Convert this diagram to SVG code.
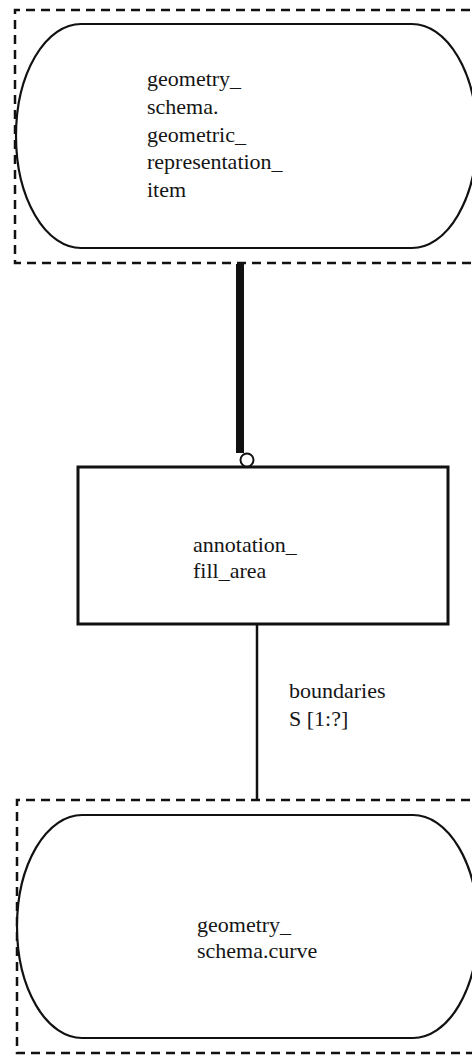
<svg xmlns="http://www.w3.org/2000/svg" width="472" height="1055" viewBox="0 0 472 1055">
<style>
text{font-family:"Liberation Serif","Times New Roman",serif;font-size:22px;fill:#151515}
.dash{fill:none;stroke:#111;stroke-width:2.5;stroke-dasharray:9,6}
.oval{fill:#fff;stroke:#111;stroke-width:2.2}
.box{fill:#fff;stroke:#111;stroke-width:3}
.line{fill:none;stroke:#111}
</style>
<rect width="472" height="1055" fill="#fff"/>
<g id="node-geometric_representation_item">
<path class="dash" d="M485,10 H15 V263 H485"/>
<rect class="oval" x="16" y="24" width="461" height="224" rx="65" ry="112"/>
<text x="147" y="86">geometry_</text>
<text x="147" y="114">schema.</text>
<text x="147" y="142">geometric_</text>
<text x="147" y="169">representation_</text>
<text x="147" y="197">item</text>
</g>
<g id="node-annotation_fill_area">
<rect class="box" x="78" y="467" width="370" height="157"/>
<text x="193" y="552">annotation_</text>
<text x="193" y="578">fill_area</text>
</g>
<g id="node-curve">
<path class="dash" d="M485,800 H17 V1053 H485"/>
<rect class="oval" x="17" y="815" width="461" height="223" rx="65" ry="111.5"/>
<text x="197" y="932">geometry_</text>
<text x="197" y="958">schema.curve</text>
</g>
<g id="connectors">
<line class="line" x1="240" y1="264" x2="240" y2="453" stroke-width="8"/>
<circle cx="247" cy="460" r="6.5" fill="#fff" stroke="#111" stroke-width="2"/>
<line class="line" x1="257" y1="625" x2="257" y2="800" stroke-width="2.5"/>
<text x="289" y="698">boundaries</text>
<text x="289" y="726">S [1:?]</text>
</g>
</svg>
